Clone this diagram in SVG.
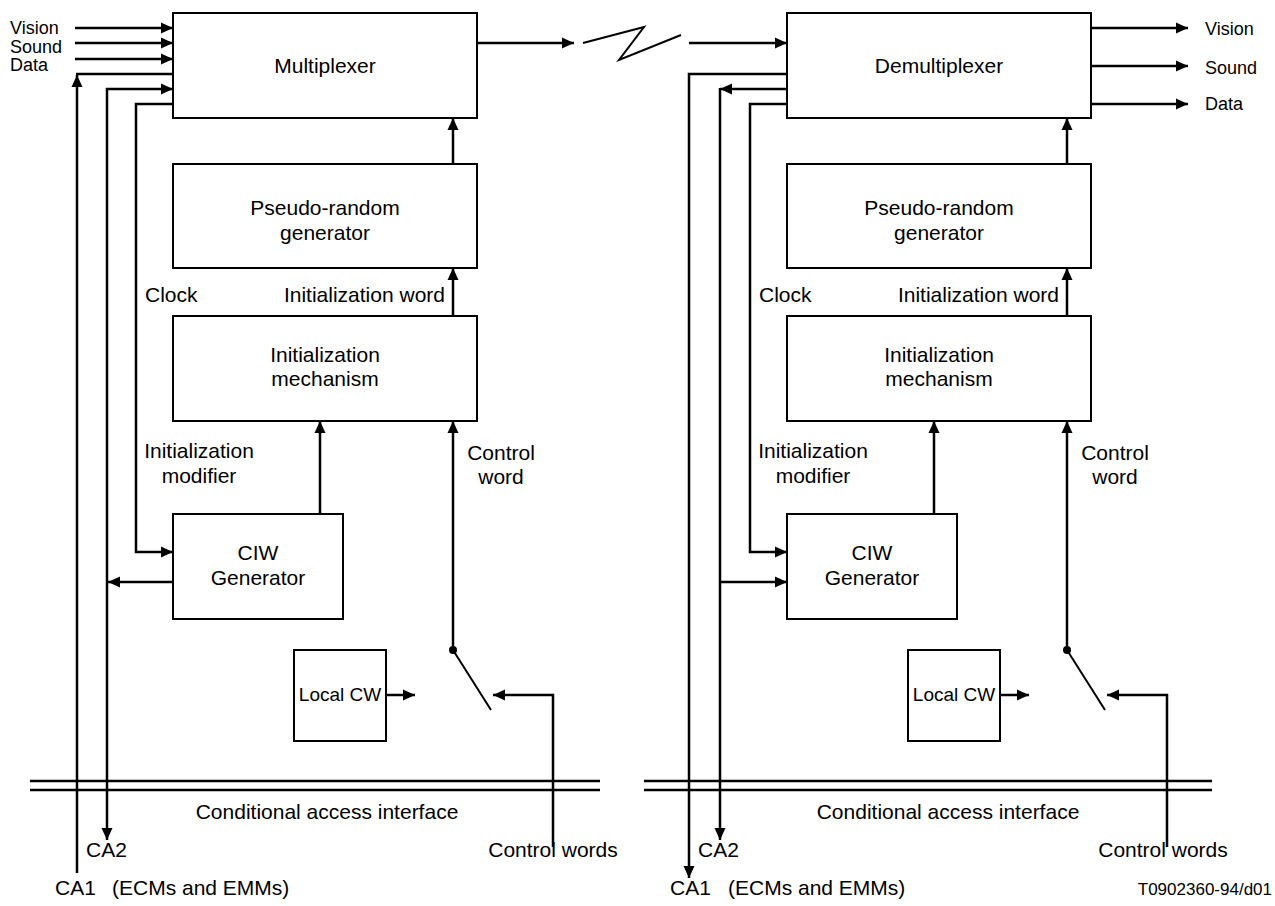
<svg xmlns="http://www.w3.org/2000/svg" width="1275" height="906" viewBox="0 0 1275 906">
  <style>
    .box { fill: #fff; stroke: #000; stroke-width: 2; }
    .ln { fill: none; stroke: #000; stroke-width: 2.5; }
    .thin { fill: none; stroke: #000; stroke-width: 2; }
    .arr { marker-end: url(#ah); }
    text { font-family: "Liberation Sans", Arial, sans-serif; font-size: 21px; fill: #000; }
    .c { text-anchor: middle; }
    .e { text-anchor: end; }
    .sm { font-size: 18px; }
    .lcw { font-size: 19px; }
    .ref { font-size: 17px; }
  </style>
  <defs>
    <marker id="ah" markerUnits="userSpaceOnUse" markerWidth="13" markerHeight="12" refX="12" refY="6" orient="auto">
      <path d="M0,0.5 L12,6 L0,11.5 z" fill="#000"/>
    </marker>
  </defs>
  <rect width="1275" height="906" fill="#fff"/>

  <!-- ===== Scrambling side ===== -->
  <g id="mux"><rect class="box" x="173" y="13" width="304" height="105"/><text class="c" x="325" y="73">Multiplexer</text></g>
  <g id="prg-tx"><rect class="box" x="173" y="164" width="304" height="104"/><text class="c" x="325" y="215">Pseudo-random</text><text class="c" x="325" y="240">generator</text></g>
  <g id="init-tx"><rect class="box" x="173" y="316" width="304" height="105"/><text class="c" x="325" y="362">Initialization</text><text class="c" x="325" y="386">mechanism</text></g>
  <g id="ciw-tx"><rect class="box" x="173" y="514" width="170" height="105"/><text class="c" x="258" y="560">CIW</text><text class="c" x="258" y="585">Generator</text></g>
  <g id="lcw-tx"><rect class="box" x="294" y="650" width="92" height="91"/><text class="c lcw" x="340" y="701">Local CW</text></g>

  <!-- ===== Descrambling side ===== -->
  <g id="demux"><rect class="box" x="787" y="13" width="304" height="105"/><text class="c" x="939" y="73">Demultiplexer</text></g>
  <g id="prg-rx"><rect class="box" x="787" y="164" width="304" height="104"/><text class="c" x="939" y="215">Pseudo-random</text><text class="c" x="939" y="240">generator</text></g>
  <g id="init-rx"><rect class="box" x="787" y="316" width="304" height="105"/><text class="c" x="939" y="362">Initialization</text><text class="c" x="939" y="386">mechanism</text></g>
  <g id="ciw-rx"><rect class="box" x="787" y="514" width="170" height="105"/><text class="c" x="872" y="560">CIW</text><text class="c" x="872" y="585">Generator</text></g>
  <g id="lcw-rx"><rect class="box" x="908" y="650" width="92" height="91"/><text class="c lcw" x="954" y="701">Local CW</text></g>

  <!-- ===== Connectors ===== -->
  <g id="connectors">
    <!-- inputs to multiplexer -->
    <line class="ln arr" x1="75" y1="28" x2="173" y2="28"/>
    <line class="ln arr" x1="75" y1="43" x2="173" y2="43"/>
    <line class="ln arr" x1="75" y1="59" x2="173" y2="59"/>
    <!-- transmission link -->
    <line class="ln arr" x1="477" y1="43" x2="574" y2="43"/>
    <polyline class="thin" points="583,43 644,27 619,60 681,35"/>
    <line class="ln arr" x1="689" y1="43" x2="787" y2="43"/>
    <!-- demultiplexer outputs -->
    <line class="ln arr" x1="1091" y1="28" x2="1188" y2="28"/>
    <line class="ln arr" x1="1091" y1="66" x2="1188" y2="66"/>
    <line class="ln arr" x1="1091" y1="104" x2="1188" y2="104"/>

    <!-- left: CA1, CA2, clock -->
    <line class="ln arr" x1="77" y1="873" x2="77" y2="75"/>
    <polyline class="ln" points="76,74 173,74"/>
    <line class="ln arr" x1="107" y1="88" x2="107" y2="840"/>
    <line class="ln arr" x1="106" y1="89" x2="173" y2="89"/>
    <polyline class="ln arr" points="173,104 136,104 136,552 173,552"/>
    <line class="ln arr" x1="173" y1="582" x2="108" y2="582"/>

    <!-- left: vertical chain -->
    <line class="ln arr" x1="453" y1="164" x2="453" y2="118"/>
    <line class="ln arr" x1="453" y1="316" x2="453" y2="268"/>
    <line class="ln arr" x1="320" y1="514" x2="320" y2="421"/>
    <line class="ln arr" x1="453" y1="650" x2="453" y2="421"/>
    <circle cx="453" cy="650" r="4" fill="#000"/>
    <line class="thin" x1="453" y1="650" x2="491" y2="710"/>
    <line class="ln arr" x1="386" y1="695" x2="415" y2="695"/>
    <polyline class="ln arr" points="553,847 553,695 493,695"/>

    <!-- right: CA1, CA2, clock -->
    <polyline class="ln arr" points="787,74 689,74 689,878"/>
    <line class="ln arr" x1="787" y1="89" x2="720" y2="89"/>
    <line class="ln arr" x1="720" y1="88" x2="720" y2="840"/>
    <line class="ln arr" x1="720" y1="582" x2="787" y2="582"/>
    <polyline class="ln arr" points="787,104 750,104 750,552 787,552"/>

    <!-- right: vertical chain -->
    <line class="ln arr" x1="1067" y1="164" x2="1067" y2="118"/>
    <line class="ln arr" x1="1067" y1="316" x2="1067" y2="268"/>
    <line class="ln arr" x1="934" y1="514" x2="934" y2="421"/>
    <line class="ln arr" x1="1067" y1="650" x2="1067" y2="421"/>
    <circle cx="1067" cy="650" r="4" fill="#000"/>
    <line class="thin" x1="1067" y1="650" x2="1105" y2="710"/>
    <line class="ln arr" x1="1000" y1="695" x2="1029" y2="695"/>
    <polyline class="ln arr" points="1167,847 1167,695 1107,695"/>

    <!-- conditional access interface -->
    <line class="ln" x1="30" y1="781" x2="600" y2="781"/>
    <line class="ln" x1="30" y1="790" x2="600" y2="790"/>
    <line class="ln" x1="644" y1="781" x2="1212" y2="781"/>
    <line class="ln" x1="644" y1="790" x2="1212" y2="790"/>
  </g>

  <!-- ===== Labels ===== -->
  <g id="labels">
    <text class="sm" x="10" y="34">Vision</text>
    <text class="sm" x="10" y="53">Sound</text>
    <text class="sm" x="10" y="71">Data</text>
    <text class="sm" x="1205" y="35">Vision</text>
    <text class="sm" x="1205" y="74">Sound</text>
    <text class="sm" x="1205" y="110">Data</text>

    <text x="145" y="302">Clock</text>
    <text class="e" x="445" y="302">Initialization word</text>
    <text class="c" x="199" y="458">Initialization</text>
    <text class="c" x="199" y="483">modifier</text>
    <text class="c" x="501" y="460">Control</text>
    <text class="c" x="501" y="484">word</text>

    <text x="759" y="302">Clock</text>
    <text class="e" x="1059" y="302">Initialization word</text>
    <text class="c" x="813" y="458">Initialization</text>
    <text class="c" x="813" y="483">modifier</text>
    <text class="c" x="1115" y="460">Control</text>
    <text class="c" x="1115" y="484">word</text>

    <text class="c" x="327" y="819">Conditional access interface</text>
    <text x="86" y="857">CA2</text>
    <text class="c" x="553" y="857">Control words</text>
    <text x="55" y="895">CA1</text>
    <text x="112" y="895">(ECMs and EMMs)</text>

    <text class="c" x="948" y="819">Conditional access interface</text>
    <text x="698" y="857">CA2</text>
    <text class="c" x="1163" y="857">Control words</text>
    <text x="670" y="895">CA1</text>
    <text x="728" y="895">(ECMs and EMMs)</text>
    <text class="e ref" x="1272" y="895">T0902360-94/d01</text>
  </g>
</svg>
